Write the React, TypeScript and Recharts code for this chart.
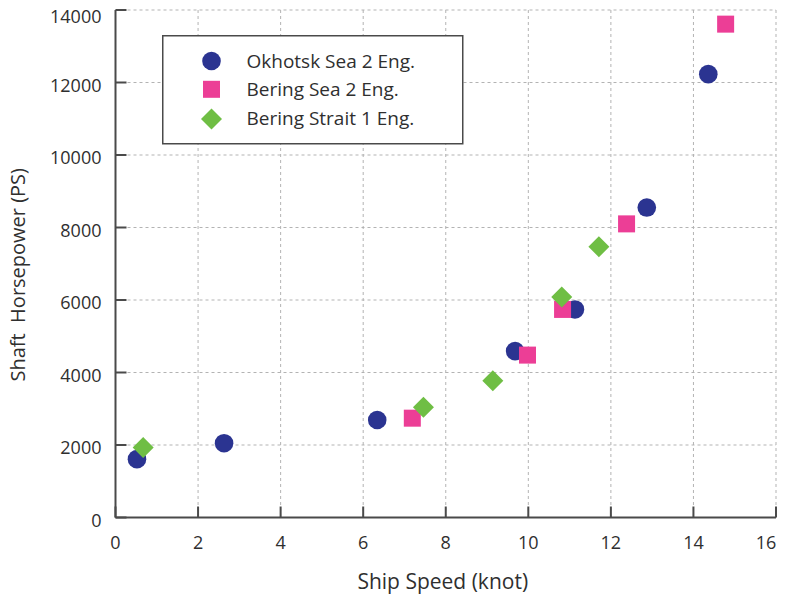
import { ScatterChart, Scatter, XAxis, YAxis, CartesianGrid, Legend } from "recharts";

// ship speed (knot) vs shaft horsepower (PS)
const okhotskSpeed = [0.52, 2.63, 6.34, 9.68, 11.13, 12.87, 14.36];
const okhotskPower = [1610, 2050, 2690, 4590, 5740, 8550, 12230];

const beringSeaSpeed = [7.19, 9.98, 10.83, 12.38, 14.78];
const beringSeaPower = [2740, 4480, 5740, 8100, 13610];

const beringStraitSpeed = [0.67, 7.46, 9.14, 10.81, 11.71];
const beringStraitPower = [1930, 3040, 3770, 6080, 7470];

const xTicks = [0, 2, 4, 6, 8, 10, 12, 14, 16];
const yTicks = [0, 2000, 4000, 6000, 8000, 10000, 12000, 14000];

const seriesNames = ["Okhotsk Sea 2 Eng.", "Bering Sea 2 Eng.", "Bering Strait 1 Eng."];

const NAVY = "#2b3491";
const PINK = "#ec3e96";
const GREEN = "#6fbe44";
const FRAME = "#4a4a4a";
const TEXT = "#2f2f2f";
const FONT = "'Open Sans', sans-serif";

const toPoints = (xs: number[], ys: number[]) => xs.map((x, i) => ({ x, y: ys[i] }));

const okhotsk = toPoints(okhotskSpeed, okhotskPower);
const beringSea = toPoints(beringSeaSpeed, beringSeaPower);
const beringStrait = toPoints(beringStraitSpeed, beringStraitPower);

const Dot = (p: any) => <circle cx={p.cx} cy={p.cy} r={9.3} fill={NAVY} />;
const Square = (p: any) => (
  <rect x={p.cx - 8.5} y={p.cy - 8.5} width={17} height={17} fill={PINK} />
);
const Diamond = (p: any) => {
  const d = 10.5;
  return (
    <polygon
      points={`${p.cx},${p.cy - d} ${p.cx + d},${p.cy} ${p.cx},${p.cy + d} ${p.cx - d},${p.cy}`}
      fill={GREEN}
    />
  );
};

const TICK_LEN = 11;

const BottomTick = (p: any) => (
  <g>
    <line x1={p.x} y1={p.y} x2={p.x} y2={p.y - TICK_LEN} stroke={FRAME} strokeWidth={2} />
    {/* page is clipped a little right of the frame, so pull the last label in */}
    <text
      x={Math.min(p.x, 766)}
      y={p.y + 31}
      textAnchor="middle"
      fontSize={18}
      fontFamily={FONT}
      fill={TEXT}
    >
      {p.payload.value}
    </text>
  </g>
);

const TopTick = (p: any) => (
  <line x1={p.x} y1={p.y} x2={p.x} y2={p.y + TICK_LEN} stroke={FRAME} strokeWidth={2} />
);

const LeftTick = (p: any) => (
  <g>
    <line x1={p.x} y1={p.y} x2={p.x + TICK_LEN} y2={p.y} stroke={FRAME} strokeWidth={2} />
    <text
      x={p.x - 14}
      y={Math.max(p.y + 2, 16.3)}
      textAnchor="end"
      dominantBaseline="central"
      fontSize={18}
      fontFamily={FONT}
      fill={TEXT}
    >
      {p.payload.value}
    </text>
  </g>
);

const RightTick = (p: any) => (
  <line x1={p.x} y1={p.y} x2={p.x - TICK_LEN} y2={p.y} stroke={FRAME} strokeWidth={2} />
);

const XTitle = ({ viewBox }: any) => (
  <text
    x={viewBox.x + viewBox.width / 2 - 3}
    y={viewBox.y + 71}
    textAnchor="middle"
    fontSize={21}
    fontFamily={FONT}
    fill={TEXT}
  >
    Ship Speed (knot)
  </text>
);

const YTitle = ({ viewBox }: any) => (
  <text
    transform={`translate(25, ${viewBox.y + viewBox.height / 2 + 11}) rotate(-90)`}
    textAnchor="middle"
    fontSize={20}
    fontFamily={FONT}
    fill={TEXT}
    style={{ whiteSpace: "pre" }}
  >
    {"Shaft  Horsepower (PS)"}
  </text>
);

const markers = [Dot, Square, Diamond];

const LegendBox = () => (
  <svg width={302} height={110} style={{ display: "block" }}>
    <rect x={0.75} y={0.75} width={300} height={108} fill="#fff" stroke={FRAME} strokeWidth={1.5} />
    {seriesNames.map((name, i) => {
      const M = markers[i];
      const cy = 26 + i * 28.3;
      return (
        <g key={name}>
          <M cx={49.5} cy={i === 2 ? cy + 1.5 : cy} />
          <text
            x={84.5}
            y={cy}
            dominantBaseline="central"
            fontSize={19}
            fontFamily={FONT}
            fill={TEXT}
          >
            {name}
          </text>
        </g>
      );
    })}
  </svg>
);

export default function App() {
  return (
    <div style={{ margin: "-8px 0 0 -8px", width: 785, height: 596 }}>
      <ScatterChart width={785} height={596} margin={{ top: 10, right: 9, bottom: 0, left: 0 }}>
        <CartesianGrid stroke="#b3b3b3" strokeDasharray="3 3" />
        <XAxis
          type="number"
          dataKey="x"
          domain={[0, 16]}
          ticks={xTicks}
          interval={0}
          height={78.5}
          tickSize={0}
          tickMargin={0}
          tickLine={false}
          axisLine={{ stroke: FRAME, strokeWidth: 2 }}
          tick={BottomTick}
          label={{ content: XTitle }}
        />
        <XAxis
          xAxisId="top"
          orientation="top"
          type="number"
          dataKey="x"
          domain={[0, 16]}
          ticks={xTicks}
          interval={0}
          height={0}
          tickSize={0}
          tickMargin={0}
          tickLine={false}
          axisLine={{ stroke: FRAME, strokeWidth: 2 }}
          tick={TopTick}
        />
        <YAxis
          type="number"
          dataKey="y"
          domain={[0, 14000]}
          ticks={yTicks}
          interval={0}
          width={115.5}
          tickSize={0}
          tickMargin={0}
          tickLine={false}
          axisLine={{ stroke: FRAME, strokeWidth: 2 }}
          tick={LeftTick}
          label={{ content: YTitle }}
        />
        <YAxis
          yAxisId="right"
          orientation="right"
          type="number"
          dataKey="y"
          domain={[0, 14000]}
          ticks={yTicks}
          interval={0}
          width={0}
          tickSize={0}
          tickMargin={0}
          tickLine={false}
          axisLine={{ stroke: FRAME, strokeWidth: 2 }}
          tick={RightTick}
        />
        <Legend
          layout="vertical"
          align="center"
          verticalAlign="middle"
          content={LegendBox}
          wrapperStyle={{ left: 161.5, top: 35, width: 302, height: 110 }}
        />
        <Scatter name={seriesNames[0]} data={okhotsk} shape={Dot} isAnimationActive={false} />
        <Scatter name={seriesNames[1]} data={beringSea} shape={Square} isAnimationActive={false} />
        <Scatter name={seriesNames[2]} data={beringStrait} shape={Diamond} isAnimationActive={false} />
      </ScatterChart>
    </div>
  );
}
